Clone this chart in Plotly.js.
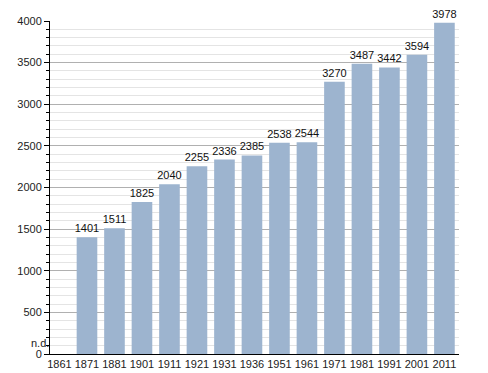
<!DOCTYPE html>
<html><head><meta charset="utf-8">
<script src="https://cdn.plot.ly/plotly-3.0.1.min.js"></script>
<style>html,body{margin:0;padding:0;background:#fff}#c{width:488px;height:373px}</style>
</head><body><div id="c"></div>
<script>
const years = ["1861","1871","1881","1901","1911","1921","1931","1936","1951","1961","1971","1981","1991","2001","2011"];
const population = [null,1401,1511,1825,2040,2255,2336,2385,2538,2544,3270,3487,3442,3594,3978];
const labels = ["","1401","1511","1825","2040","2255","2336","2385","2538","2544","3270","3487","3442","3594","3978"];
const missingLabel = "n.d.";

Plotly.newPlot('c', [{
  type: 'bar', x: years, y: population, text: labels,
  textposition: 'outside', cliponaxis: false, constraintext: 'none',
  textfont: {family: 'Liberation Sans, Arial, sans-serif', size: 11, color: '#111'},
  marker: {color: '#9db4cf'}, width: 0.75, hoverinfo: 'none'
}], {
  width: 488, height: 373,
  margin: {l: 50, r: 29, t: 21, b: 19},
  paper_bgcolor: '#fff', plot_bgcolor: '#fff',
  showlegend: false,
  font: {family: 'Liberation Sans, Arial, sans-serif', size: 11, color: '#222'},
  xaxis: {type: 'category', range: [-0.345, 14.53], showline: true, linecolor: '#000', linewidth: 1,
          ticks: '', tickfont: {size: 11}, fixedrange: true},
  yaxis: {range: [0, 4000], dtick: 500, showline: true, linecolor: '#000', linewidth: 1,
          gridcolor: '#b0b0b0', gridwidth: 1, zeroline: false,
          ticks: 'outside', ticklen: 5, tickcolor: '#000', tickfont: {size: 11},
          minor: {dtick: 100, showgrid: true, gridcolor: '#e4e4e4', ticks: 'outside', ticklen: 3, tickcolor: '#000'}},
  annotations: [{xref: 'paper', yref: 'y', x: 0, y: 130, xanchor: 'right', yanchor: 'middle',
                 text: missingLabel, showarrow: false, xshift: 1,
                 font: {family: 'Liberation Sans, Arial, sans-serif', size: 11, color: '#222'}}]
}, {staticPlot: true});
</script></body></html>
